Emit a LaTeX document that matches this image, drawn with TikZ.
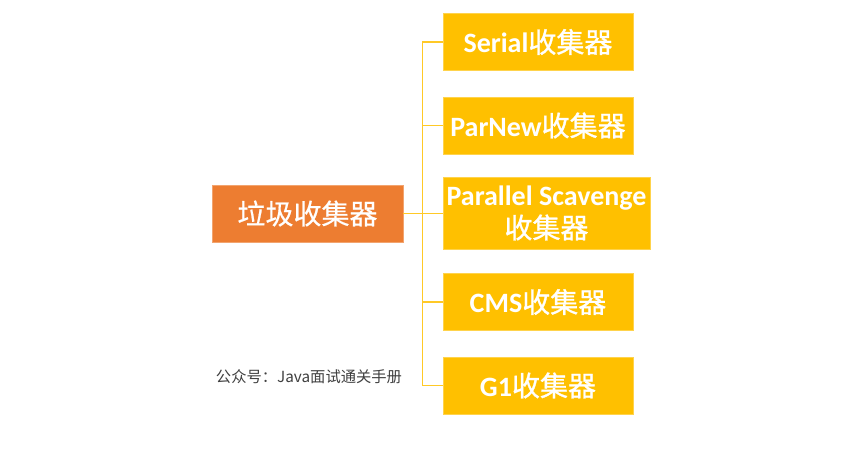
\documentclass[tikz,border=0pt]{standalone}
\usepackage{fontspec}
\setmainfont{Carlito}
\newfontfamily\cjk{Noto Sans CJK SC}
\newfontfamily\cjkroot[FakeBold=0.6]{Noto Sans CJK SC}
\newfontfamily\cjkboxfont[FakeBold=1.0]{Noto Sans CJK SC}
\newcommand\gccjk{\cjkboxfont\mdseries}
\definecolor{rootorange}{HTML}{ED7D31}
\definecolor{gcyellow}{HTML}{FFC000}
\definecolor{notegray}{HTML}{404040}
\begin{document}
\begin{tikzpicture}[x=1pt,y=-1pt,
  rootbox/.style={fill=rootorange,draw=rootorange!70!white,line width=0.8pt,text=white,
    minimum width=191pt,minimum height=57pt,inner sep=0pt,align=center,
    font=\fontsize{28}{30}\selectfont},
  gcbox/.style={fill=gcyellow,draw=gcyellow!70!white,line width=0.8pt,text=white,
    minimum width=190pt,minimum height=57pt,inner sep=0pt,align=center,
    font=\fontsize{28}{35}\selectfont\bfseries},
  link/.style={draw=gcyellow!85!white,line width=1.4pt}]
  \useasboundingbox (0,0) rectangle (868,453);
  \fill[white] (0,0) rectangle (868,453);

  % root and the five collectors
  \node[rootbox] (root) at (307.5,213.5) {\cjkroot 垃圾收集器};
  \node[gcbox] (serial) at (538,42) {Serial\gccjk 收集器};
  \node[gcbox] (parnew) at (538,125.5) {ParNew\gccjk 收集器};
  \node[gcbox,minimum width=207pt,minimum height=72pt] (pscav) at (546.5,213)
    {Parallel Scavenge\\[-2pt]{\gccjk 收集器}};
  \node[gcbox] (cms) at (538,302) {CMS\gccjk 收集器};
  \node[gcbox] (gone) at (538,385.5) {G1\gccjk 收集器};

  % bus connecting the collectors
  \coordinate (bustop) at (422.5,42);
  \coordinate (busbot) at (422.5,385.5);
  \draw[link] (serial.west) -- (bustop) -- (busbot) -- (gone.west);
  \draw[link] (parnew.west) -- (parnew.west -| bustop);
  \draw[link] (cms.west) -- (cms.west -| bustop);
  \draw[link] (root.east) -- (root.east -| pscav.west);

  \node[text=notegray,font=\cjk\fontsize{15.3}{17}\selectfont,anchor=center] (note) at (309,377)
    {公众号：Java面试通关手册};
\end{tikzpicture}
\end{document}
